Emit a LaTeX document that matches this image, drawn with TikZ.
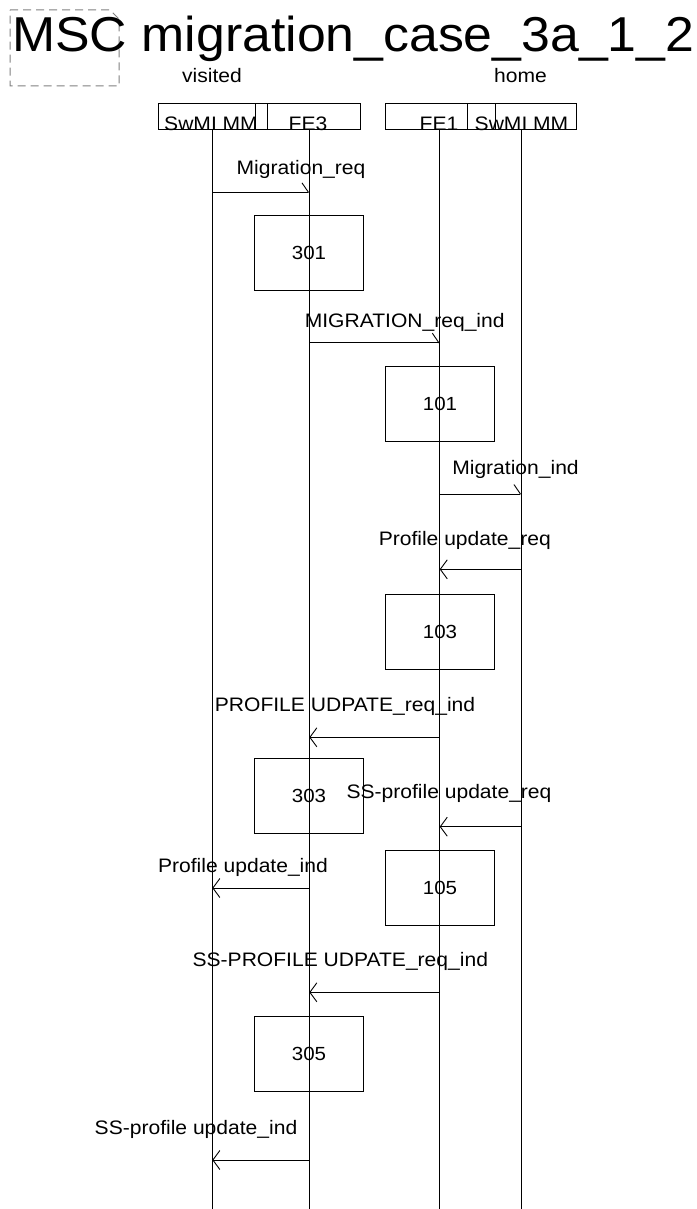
\documentclass[tikz,border=0pt]{standalone}
\usepackage{fontspec}
\setmainfont{Liberation Sans}[FakeStretch=1.08]
\newfontfamily\titlefont{Liberation Sans}[FakeStretch=1.057]
\usetikzlibrary{arrows.meta}
\tikzset{
  lbl/.style={anchor=base,inner sep=0pt,font=\fontsize{19.5}{23}\selectfont},
  hdrbox/.style={draw,line width=0.9pt,minimum height=26pt,inner sep=0pt},
  actbox/.style={draw,line width=0.9pt,minimum width=109pt,minimum height=75pt,inner sep=0pt,font=\fontsize{19}{23}\selectfont},
  life/.style={line width=1pt},
  msgR/.style={line width=0.9pt,-{Straight Barb[harpoon,length=6.5pt,width=19pt]}},
  msgL/.style={line width=0.9pt,-{Straight Barb[length=7pt,width=19pt]}},
  frame/.style={draw=gray,line width=1pt,dash pattern=on 8pt off 5pt}
}
\begin{document}
\begin{tikzpicture}[x=1pt,y=-1pt]
\useasboundingbox (0,0) rectangle (696,1209);
% frame and title
\draw[frame] (10,10) -- (110,10) -- (119,19) -- (119,86) -- (10,86) -- cycle;
\node[anchor=base west,inner sep=0pt,font=\titlefont\fontsize{49}{56}\selectfont] (title) at (12,52) {MSC migration\_case\_3a\_1\_2};
\node[lbl] (visited) at (212,82.7) {visited};
\node[lbl] (home) at (520.5,82.7) {home};
% header boxes
\node[hdrbox,minimum width=109pt] (hA) at (212.5,116) {};
\node[hdrbox,minimum width=105pt] (hB) at (307.5,116) {};
\node[hdrbox,minimum width=110pt] (hC) at (440,116) {};
\node[hdrbox,minimum width=109pt] (hD) at (521.5,116) {};
\node[lbl] (tA) at (211,131) {SwMI MM};
\node[lbl] (tB) at (308,131) {FE3};
\node[lbl] (tC) at (439,131) {FE1};
\node[lbl] (tD) at (521.5,131) {SwMI MM};
% lifelines
\coordinate (lA) at (212.3,129);
\coordinate (lB) at (309.3,129);
\coordinate (lC) at (439.7,129);
\coordinate (lD) at (521.3,129);
\coordinate (bot) at (0,1209);
\foreach \l in {lA,lB,lC,lD} \draw[life] (\l) -- (\l |- bot);
% action boxes
\node[actbox] (b301) at (309,253) {301};
\node[actbox] (b101) at (440,404.2) {101};
\node[actbox] (b103) at (440,631.5) {103};
\node[actbox] (b303) at (309,796.2) {303};
\node[actbox] (b105) at (440,888.3) {105};
\node[actbox] (b305) at (309,1053.5) {305};
% message rows
\coordinate (m1) at (0,192.3);
\coordinate (m2) at (0,342.7);
\coordinate (m3) at (0,494);
\coordinate (m4) at (0,569.3);
\coordinate (m5) at (0,737.3);
\coordinate (m6) at (0,826.7);
\coordinate (m7) at (0,888);
\coordinate (m8) at (0,992.3);
\coordinate (m9) at (0,1160);
\draw[msgR] (lA |- m1) -- (lB |- m1);
\draw[msgR] (lB |- m2) -- (lC |- m2);
\draw[msgR] (lC |- m3) -- (lD |- m3);
\draw[msgL] (lD |- m4) -- (lC |- m4);
\draw[msgL] (lC |- m5) -- (lB |- m5);
\draw[msgL] (lD |- m6) -- (lC |- m6);
\draw[msgL] (lB |- m7) -- (lA |- m7);
\draw[msgL] (lC |- m8) -- (lB |- m8);
\draw[msgL] (lB |- m9) -- (lA |- m9);
% message labels
\node[lbl] (n1) at (301,175) {Migration\_req};
\node[lbl] (n2) at (404.7,327.3) {MIGRATION\_req\_ind};
\node[lbl] (n3) at (515.5,474) {Migration\_ind};
\node[lbl] (n4) at (464.8,545.7) {Profile update\_req};
\node[lbl] (n5) at (345,711.7) {PROFILE UDPATE\_req\_ind};
\node[lbl] (n6) at (449,798.3) {SS-profile update\_req};
\node[lbl] (n7) at (243,872.7) {Profile update\_ind};
\node[lbl] (n8) at (340.3,966.7) {SS-PROFILE UDPATE\_req\_ind};
\node[lbl] (n9) at (196,1134.3) {SS-profile update\_ind};
\end{tikzpicture}
\end{document}
